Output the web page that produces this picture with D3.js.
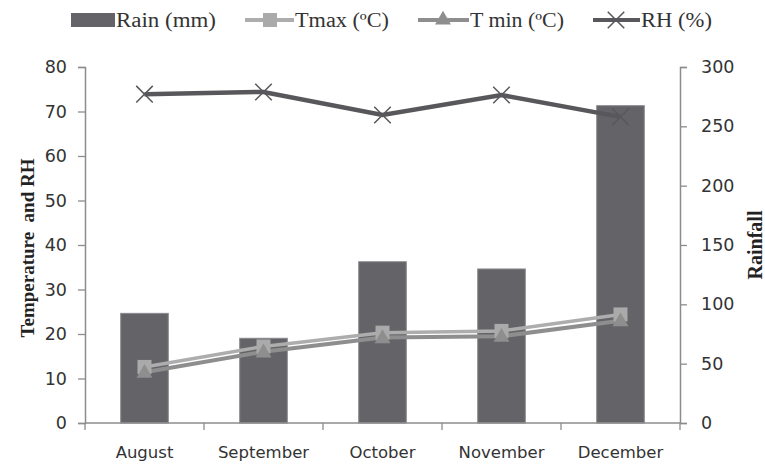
<!DOCTYPE html>
<html>
<head>
<meta charset="utf-8">
<script src="https://cdn.jsdelivr.net/npm/d3@7"></script>
<style>
  html, body { margin: 0; padding: 0; background: #fff; }
  svg { display: block; }
</style>
</head>
<body>
<svg id="chart" width="765" height="464"></svg>
<script>
// Monthly weather data
const months = ["August", "September", "October", "November", "December"];
const rain = [92.4, 71.4, 135.9, 129.8, 267.4];     // mm, right axis
const tmax = [12.6, 17.2, 20.3, 20.7, 24.4];        // °C, left axis
const tmin = [11.4, 16.0, 19.2, 19.5, 23.0];        // °C, left axis
const rh = [73.9, 74.4, 69.2, 73.7, 68.8];          // %, left axis
const leftTicks = [0, 10, 20, 30, 40, 50, 60, 70, 80];
const rightTicks = [0, 50, 100, 150, 200, 250, 300];

const svg = d3.select("#chart");
const m = { left: 85, right: 680, top: 67, bottom: 423 };

const x = d3.scaleBand().domain(months).range([m.left, m.right]).paddingInner(0.6).paddingOuter(0.3);
const xc = d => x(d) + x.bandwidth() / 2;
const yL = d3.scaleLinear().domain([0, 80]).range([m.bottom, m.top]);
const yR = d3.scaleLinear().domain([0, 300]).range([m.bottom, m.top]);

const axisCol = "#8c8c8c";
const tickFont = "'DejaVu Sans', Verdana, sans-serif";
const serif = "'Liberation Serif', 'DejaVu Serif', serif";

// Rain bars
svg.append("g").selectAll("rect").data(months).join("rect")
  .attr("x", d => x(d))
  .attr("width", x.bandwidth())
  .attr("y", (d, i) => yR(rain[i]))
  .attr("height", (d, i) => m.bottom - yR(rain[i]))
  .attr("fill", "#646468")
  .attr("stroke", "#8a8a8e")
  .attr("stroke-width", 1);

// Left axis
const gL = svg.append("g").attr("transform", `translate(${m.left},0)`)
  .call(d3.axisLeft(yL).tickValues(leftTicks).tickSize(7).tickPadding(11));
// Right axis
const gR = svg.append("g").attr("transform", `translate(${m.right},0)`)
  .call(d3.axisRight(yR).tickValues(rightTicks).tickSize(7).tickPadding(14));
[gL, gR].forEach(g => {
  g.select(".domain").attr("stroke", axisCol).attr("stroke-width", 1.5);
  g.selectAll(".tick line").attr("stroke", axisCol).attr("stroke-width", 1.3);
  g.selectAll(".tick text").attr("fill", "#333").style("font-family", tickFont).style("font-size", "17.5px");
});

// Bottom axis with ticks at category boundaries
const gB = svg.append("g").attr("transform", `translate(0,${m.bottom})`);
gB.append("line").attr("x1", m.left).attr("x2", m.right)
  .attr("stroke", axisCol).attr("stroke-width", 1.5);
const step = x.step();
const first = xc(months[0]) - step / 2;
const bounds = d3.range(0, months.length + 1).map(i => first + step * i);
gB.selectAll("line.sep").data(bounds).join("line").attr("class", "sep")
  .attr("x1", d => d).attr("x2", d => d).attr("y1", 0).attr("y2", 7)
  .attr("stroke", axisCol).attr("stroke-width", 1.3);
gB.selectAll("text").data(months).join("text")
  .attr("x", d => xc(d)).attr("y", 35)
  .attr("text-anchor", "middle")
  .attr("fill", "#333")
  .style("font-family", tickFont).style("font-size", "16.5px")
  .text(d => d);

// Lines
const line = vals => d3.line().x((d, i) => xc(months[i])).y(d => yL(d))(vals);

svg.append("path").attr("d", line(tmin)).attr("fill", "none")
  .attr("stroke", "#8e8e8e").attr("stroke-width", 4);
svg.append("path").attr("d", line(tmax)).attr("fill", "none")
  .attr("stroke", "#adadad").attr("stroke-width", 3.5);
svg.append("path").attr("d", line(rh)).attr("fill", "none")
  .attr("stroke", "#58585c").attr("stroke-width", 4.5);

// Markers
svg.append("g").selectAll("rect").data(tmax).join("rect")
  .attr("x", (d, i) => xc(months[i]) - 7).attr("y", d => yL(d) - 7)
  .attr("width", 14).attr("height", 14).attr("fill", "#aaaaaa");
const tri = d3.symbol().type(d3.symbolTriangle).size(110);
svg.append("g").selectAll("path").data(tmin).join("path")
  .attr("d", tri)
  .attr("transform", (d, i) => `translate(${xc(months[i])},${yL(d) + 1})`)
  .attr("fill", "#8e8e8e");
const cross = d3.symbol().type(d3.symbolX).size(180);
svg.append("g").selectAll("path").data(rh).join("path")
  .attr("d", cross)
  .attr("transform", (d, i) => `translate(${xc(months[i])},${yL(d)})`)
  .attr("fill", "none").attr("stroke", "#58585c").attr("stroke-width", 1.5);

// Axis titles
svg.append("text")
  .attr("transform", `translate(34,${(m.top + m.bottom) / 2 + 3}) rotate(-90)`)
  .attr("text-anchor", "middle")
  .attr("fill", "#222")
  .style("font-family", serif).style("font-weight", "bold").style("font-size", "19px")
  .attr("xml:space", "preserve")
  .text("Temperature  and RH");
svg.append("text")
  .attr("transform", `translate(762,${(m.top + m.bottom) / 2}) rotate(-90)`)
  .attr("text-anchor", "middle")
  .attr("fill", "#222")
  .style("font-family", serif).style("font-weight", "bold").style("font-size", "20px")
  .text("Rainfall");

// Legend
const lg = svg.append("g").style("font-family", serif).style("font-size", "20px");
const ly = 20;
const legText = (x0, w, s) => lg.append("text").attr("x", x0).attr("y", ly + 7)
  .attr("fill", "#333").attr("textLength", w).attr("lengthAdjust", "spacingAndGlyphs").text(s);

lg.append("rect").attr("x", 71).attr("y", 13).attr("width", 44).attr("height", 14).attr("fill", "#646468");
legText(116, 100, "Rain (mm)");

lg.append("line").attr("x1", 245).attr("x2", 294).attr("y1", ly).attr("y2", ly).attr("stroke", "#adadad").attr("stroke-width", 4);
lg.append("rect").attr("x", 263).attr("y", ly - 7).attr("width", 14).attr("height", 14).attr("fill", "#aaaaaa");
legText(295, 94, "Tmax (ºC)");

lg.append("line").attr("x1", 418).attr("x2", 469).attr("y1", ly).attr("y2", ly).attr("stroke", "#8e8e8e").attr("stroke-width", 4);
lg.append("path").attr("d", tri).attr("transform", `translate(443,${ly})`).attr("fill", "#8e8e8e");
legText(470, 94, "T min (ºC)");

lg.append("line").attr("x1", 593).attr("x2", 640).attr("y1", ly).attr("y2", ly).attr("stroke", "#58585c").attr("stroke-width", 4);
lg.append("path").attr("d", cross).attr("transform", `translate(616,${ly})`).attr("fill", "none").attr("stroke", "#58585c").attr("stroke-width", 1.5);
legText(641, 71, "RH (%)");
</script>
</body>
</html>
